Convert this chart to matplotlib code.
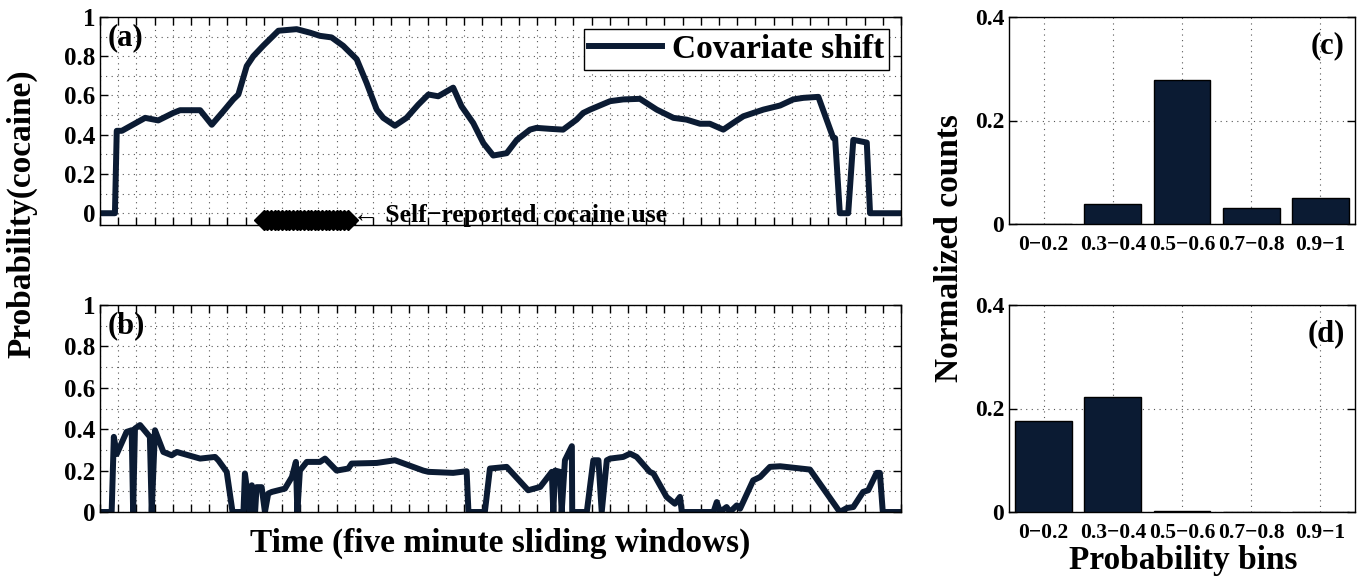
import numpy as np
import matplotlib
matplotlib.use("Agg")
import matplotlib.pyplot as plt
from matplotlib.ticker import MultipleLocator, FormatStrFormatter

# --- datos: probabilidad por ventana deslizante de 5 minutos ---
t_a = [0.5, 4.1, 4.6, 6.0, 12.4, 16.0, 20.1, 22.0, 27.5, 30.7, 33.9, 36.6, 38.0,
       40.3, 42.1, 44.8, 49.0, 54.0, 57.7, 60.4, 63.6, 66.8, 70.5, 73.2, 76.0,
       77.8, 81.0, 84.2, 87.4, 90.2, 92.9, 97.0, 99.3, 102.5, 105.3, 108.0,
       111.7, 114.5, 118.1, 119.9, 123.6, 127.2, 130.9, 132.7, 134.6, 140.1,
       143.7, 148.3, 152.9, 157.5, 161.1, 164.8, 167.5, 171.2, 173.9, 176.7,
       182.2, 186.8, 190.4, 193.2, 197.3, 201.4, 201.9, 203.2, 205.5, 206.9,
       210.6, 211.5, 219.7]
p_a = [0.0, 0.0, 0.42, 0.42, 0.486, 0.473, 0.511, 0.525, 0.525, 0.451, 0.52,
       0.58, 0.605, 0.75, 0.80, 0.853, 0.93, 0.938, 0.92, 0.904, 0.896, 0.853,
       0.785, 0.665, 0.528, 0.486, 0.446, 0.486, 0.553, 0.605, 0.596, 0.64,
       0.545, 0.46, 0.357, 0.294, 0.306, 0.374, 0.426, 0.435, 0.43, 0.426,
       0.477, 0.511, 0.528, 0.571, 0.58, 0.583, 0.528, 0.486, 0.477, 0.456,
       0.456, 0.426, 0.46, 0.494, 0.528, 0.549, 0.58, 0.588, 0.593, 0.383,
       0.383, 0.0, 0.0, 0.374, 0.36, 0.0, 0.0]

t_b = [0.5, 3.2, 3.8, 4.6, 7.3, 8.7, 9.1, 9.6, 11.0, 13.7, 14.2, 15.1, 17.4,
       19.7, 21.1, 27.5, 31.6, 32.5, 34.8, 36.4, 39.4, 39.8, 41.2, 41.7, 42.6,
       43.0, 44.4, 45.3, 46.2, 47.2, 49.0, 50.8, 52.7, 53.8, 54.2, 54.9, 56.8,
       60.4, 61.8, 65.0, 68.2, 69.1, 76.0, 81.0, 88.8, 90.2, 97.0, 100.7,
       101.2, 105.7, 107.1, 111.7, 117.6, 120.9, 124.1, 124.5, 125.0, 126.3,
       126.8, 127.7, 129.6, 129.7, 133.7, 135.5, 136.9, 137.8, 139.2, 140.1,
       143.7, 145.6, 147.4, 151.0, 152.0, 155.6, 157.9, 159.3, 159.8, 168.5,
       169.4, 170.3, 172.1, 173.0, 174.9, 175.8, 179.4, 181.3, 184.0, 186.8,
       195.0, 203.2, 205.1, 206.9, 209.6, 211.0, 213.3, 214.2, 215.0, 219.7]
p_b = [0.0, 0.0, 0.363, 0.28, 0.387, 0.395, 0.0, 0.403, 0.42, 0.363, 0.0,
       0.395, 0.29, 0.274, 0.29, 0.258, 0.266, 0.25, 0.194, 0.0, 0.0, 0.186,
       0.0, 0.129, 0.0, 0.12, 0.12, 0.0, 0.089, 0.097, 0.105, 0.113, 0.169,
       0.242, 0.0, 0.2, 0.242, 0.242, 0.258, 0.2, 0.21, 0.234, 0.237, 0.25,
       0.2, 0.194, 0.189, 0.197, 0.0, 0.0, 0.21, 0.218, 0.105, 0.121, 0.194,
       0.0, 0.2, 0.194, 0.0, 0.25, 0.318, 0.0, 0.0, 0.25, 0.25, 0.0, 0.25,
       0.258, 0.266, 0.282, 0.266, 0.194, 0.186, 0.073, 0.04, 0.073, 0.0, 0.0,
       0.048, 0.0, 0.024, 0.0, 0.032, 0.016, 0.153, 0.169, 0.218, 0.221, 0.205,
       0.0, 0.019, 0.024, 0.097, 0.105, 0.189, 0.189, 0.0, 0.0]

# ventanas con consumo auto-reportado
uso_ventanas = np.arange(45, 69)

# histogramas normalizados
bins = ["0\u22120.2", "0.3\u22120.4", "0.5\u22120.6", "0.7\u22120.8", "0.9\u22121"]
cuentas_c = [0.0, 0.039, 0.279, 0.030, 0.050]
cuentas_d = [0.1755, 0.2226, 0.002, 0.0, 0.0]

# --- estilo ---
plt.rcParams["font.family"] = ["Liberation Serif", "DejaVu Serif"]
plt.rcParams["font.weight"] = "bold"
plt.rcParams["axes.labelweight"] = "bold"
color = "#0b1b33"

fig = plt.figure(figsize=(13.61, 5.83), dpi=100)
W, H = 1361.0, 583.0


def caja(x0, y0, x1, y1):
    return [x0 / W, 1 - y1 / H, (x1 - x0) / W, (y1 - y0) / H]


def estilo(ax, size):
    ax.tick_params(which="both", direction="in", top=True, right=True,
                   labelsize=size, length=6, width=1)
    for s in ax.spines.values():
        s.set_linewidth(1.0)
    for lab in ax.get_xticklabels() + ax.get_yticklabels():
        lab.set_fontweight("bold")


ax_a = fig.add_axes(caja(100, 17, 901, 225))
ax_b = fig.add_axes(caja(100, 305, 901, 512))
ax_c = fig.add_axes(caja(1009, 17, 1355, 224))
ax_d = fig.add_axes(caja(1009, 305, 1355, 512))

# --- panel (a) ---
ax_a.plot(t_a, p_a, color=color, lw=4.3, label="Covariate shift",
          solid_joinstyle="round")
ax_a.plot(uso_ventanas, np.full(len(uso_ventanas), -0.035), "D",
          color="black", ms=10, clip_on=False)
ax_a.text(69.5, -0.01, "\u2190 Self\u2212reported cocaine use", fontsize=18.5,
          fontweight="bold", va="center", ha="left")
ax_a.set_ylim(-0.06, 1.0)
ax_a.legend(loc="upper right", fontsize=24, fancybox=False, framealpha=1,
            edgecolor="black", handlelength=2.2, borderaxespad=0.35,
            handletextpad=0.3, borderpad=0.15)
ax_a.text(0.01, 0.97, "(a)", transform=ax_a.transAxes, fontsize=22,
          fontweight="bold", va="top", ha="left")

# --- panel (b) ---
ax_b.plot(t_b, p_b, color=color, lw=4.3, solid_joinstyle="round")
ax_b.set_ylim(0, 1.0)
ax_b.text(0.01, 0.97, "(b)", transform=ax_b.transAxes, fontsize=22,
          fontweight="bold", va="top", ha="left")

for ax in (ax_a, ax_b):
    ax.set_xlim(0, 220)
    ax.xaxis.set_major_locator(MultipleLocator(5))
    ax.set_xticklabels([])
    ax.yaxis.set_major_locator(MultipleLocator(0.2))
    ax.yaxis.set_minor_locator(MultipleLocator(0.1))
    ax.yaxis.set_major_formatter(FormatStrFormatter("%g"))
    ax.grid(True, which="both", linestyle=(0, (1, 4)), color="#555555",
            linewidth=0.8)
    estilo(ax, 18)
    ax.tick_params(which="minor", right=False, left=False)

# --- paneles (c) y (d) ---
pos = np.arange(1, len(bins) + 1)
for ax, vals, lab in ((ax_c, cuentas_c, "(c)"), (ax_d, cuentas_d, "(d)")):
    ax.bar(pos, vals, width=0.82, color=color, edgecolor="black", lw=1,
           zorder=3)
    ax.set_xlim(0.5, 5.5)
    ax.set_ylim(0, 0.4)
    ax.set_xticks(pos)
    ax.set_xticklabels(bins)
    ax.set_yticks([0, 0.2, 0.4])
    ax.yaxis.set_major_formatter(FormatStrFormatter("%g"))
    ax.grid(True, linestyle=(0, (1, 4)), color="#555555", linewidth=0.8)
    estilo(ax, 17)
    ax.tick_params(axis="x", top=False, bottom=False, pad=8, labelsize=15.5)
    ax.text(0.97, 0.93, lab, transform=ax.transAxes, fontsize=22,
            fontweight="bold", va="top", ha="right")

# --- etiquetas de ejes ---
fig.text(22 / W, 1 - 214 / H, "Probability(cocaine)", rotation=90,
         fontsize=24, fontweight="bold", ha="center", va="center")
fig.text(500 / W, 1 - 543 / H, "Time (five minute sliding windows)",
         fontsize=24, fontweight="bold", ha="center", va="center")
fig.text(950 / W, 1 - 248 / H, "Normalized counts", rotation=90,
         fontsize=24, fontweight="bold", ha="center", va="center")
fig.text(1183 / W, 1 - 560 / H, "Probability bins",
         fontsize=24, fontweight="bold", ha="center", va="center")

fig.savefig("out.png", dpi=100)
